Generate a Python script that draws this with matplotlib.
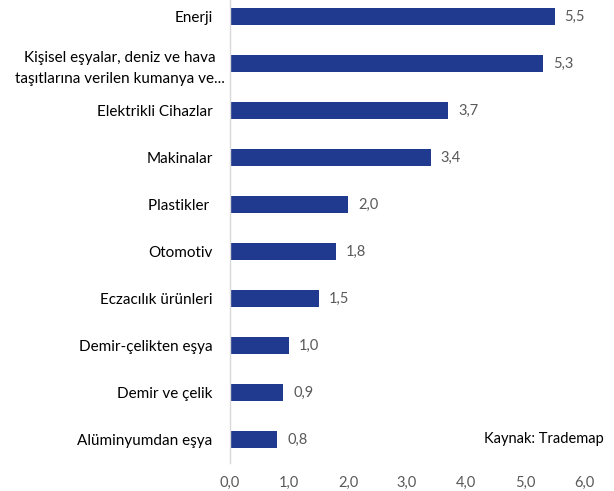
import matplotlib
matplotlib.use("Agg")
import matplotlib.pyplot as plt
from matplotlib.transforms import ScaledTranslation

categories = [
    "Enerji",
    "Kişisel eşyalar, deniz ve hava\ntaşıtlarına verilen kumanya ve...",
    "Elektrikli Cihazlar",
    "Makinalar",
    "Plastikler ",
    "Otomotiv",
    "Eczacılık ürünleri",
    "Demir-çelikten eşya",
    "Demir ve çelik",
    "Alüminyumdan eşya",
]
values = [5.5, 5.3, 3.7, 3.4, 2.0, 1.8, 1.5, 1.0, 0.9, 0.8]
x_ticks = [0, 1, 2, 3, 4, 5, 6]

bar_color = "#203A8F"
text_gray = "#595959"

plt.rcParams["font.family"] = ["Lato", "DejaVu Sans"]

fig = plt.figure(figsize=(6.14, 4.91), dpi=100)
ax = fig.add_axes([230 / 614, 28 / 491, (584 - 230) / 614, 470 / 491])

pos = list(range(len(categories)))
ax.barh(pos, values, height=0.37, color=bar_color)
for p, v in zip(pos, values):
    ax.text(v + 0.17, p, f"{v:.1f}".replace(".", ","), va="center", ha="left",
            fontsize=10.5, color=text_gray)

ax.set_ylim(len(categories) - 0.5, -0.5)
ax.set_xlim(0, 6)
ax.set_yticks(pos)
ax.set_yticklabels(categories, fontsize=11, color="black", linespacing=1.6)
ax.set_xticks(x_ticks)
ax.set_xticklabels([f"{t:.1f}".replace(".", ",") for t in x_ticks], fontsize=10.5, color=text_gray)
ax.tick_params(axis="y", length=0, pad=12.5)
ax.tick_params(axis="x", length=0, pad=9)

# two-line label: centred lines, sitting closer to the axis like Excel does
lbl = ax.get_yticklabels()[1]
lbl.set_multialignment("center")
lbl.set_transform(lbl.get_transform() + ScaledTranslation(0.12, 0, fig.dpi_scale_trans))

for s in ["top", "right", "bottom"]:
    ax.spines[s].set_visible(False)
ax.spines["left"].set_color("#D9D9D9")
ax.spines["left"].set_linewidth(1)

ax.text(1.056, 9, "Kaynak: Trademap", transform=ax.get_yaxis_transform(),
        ha="right", va="center", fontsize=10.5, color="black")

fig.savefig("out.png", dpi=100)
